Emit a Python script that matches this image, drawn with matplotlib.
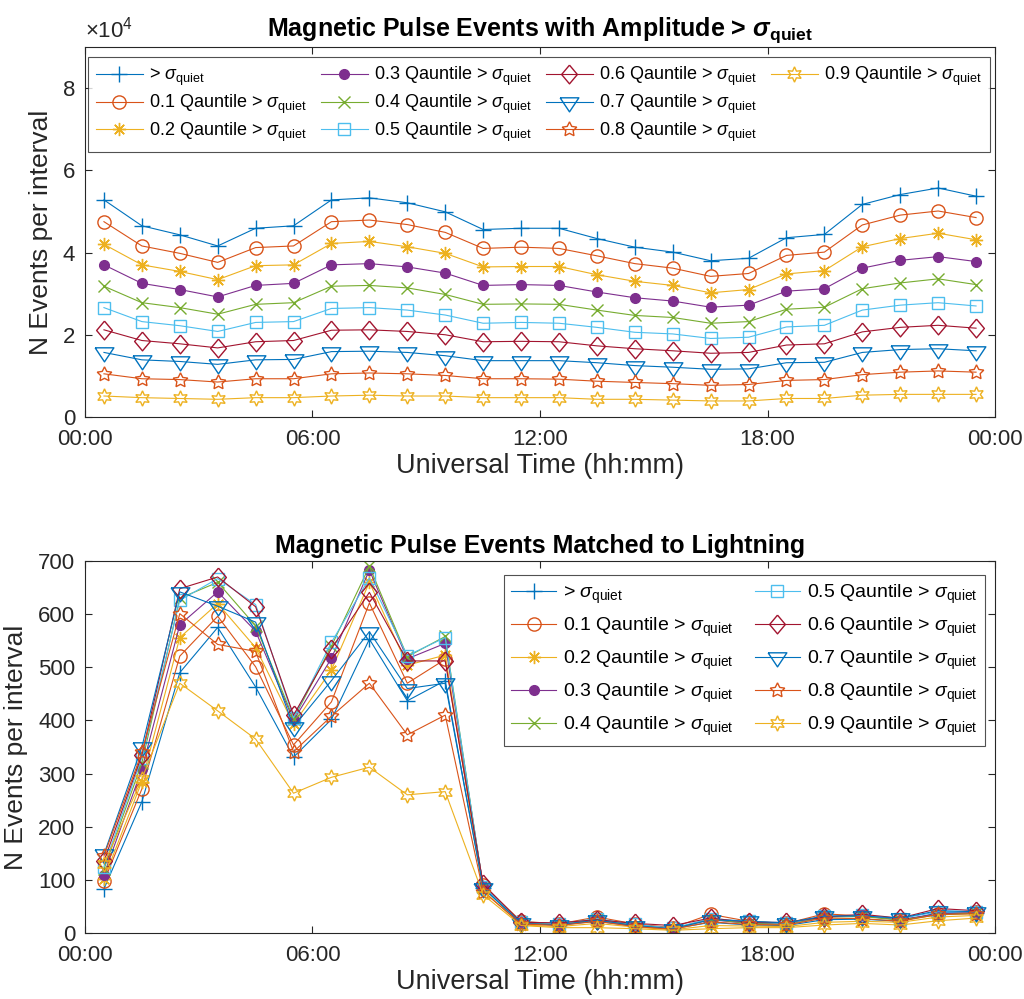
import numpy as np
import matplotlib
matplotlib.use('Agg')
import matplotlib.pyplot as plt
from matplotlib.lines import Line2D
from matplotlib.ticker import FuncFormatter

plt.rcParams['font.family'] = ['Liberation Sans', 'DejaVu Sans']
plt.rcParams['mathtext.fontset'] = 'custom'
plt.rcParams['mathtext.rm'] = 'Liberation Sans'
plt.rcParams['mathtext.it'] = 'Liberation Sans:italic'
plt.rcParams['mathtext.bf'] = 'Liberation Sans:bold'
plt.rcParams['mathtext.bfit'] = 'Liberation Sans:bold:italic'

# hourly intervals, centred on the half hour
hours = np.arange(24) + 0.5
hour_ticks = [0, 6, 12, 18, 24]
hour_labels = ['00:00', '06:00', '12:00', '18:00', '00:00']

labels = [r'> $\sigma_{\rm quiet}$'] + \
    [r'%s Qauntile > $\sigma_{\rm quiet}$' % q for q in
     ['0.1', '0.2', '0.3', '0.4', '0.5', '0.6', '0.7', '0.8', '0.9']]

# all pulse events per interval (counts)
all_events = [
    [52800, 46500, 44300, 41600, 45900, 46500, 52800, 53300, 52100, 49900, 45600, 45900,
     45900, 43400, 41300, 40100, 38000, 38600, 43600, 44400, 51700, 54100, 55700, 53700],
    [47500, 41600, 39800, 37600, 41200, 41600, 47500, 47900, 46800, 44900, 41000, 41300,
     41000, 39200, 37300, 36200, 34200, 34900, 39300, 40100, 46700, 49100, 50100, 48500],
    [42000, 37000, 35400, 33400, 36800, 37000, 42200, 42700, 41400, 39800, 36500, 36600,
     36600, 34600, 33000, 32000, 30200, 31000, 34800, 35600, 41400, 43400, 44700, 43100],
    [37000, 32500, 31000, 29200, 32000, 32500, 37000, 37300, 36500, 35000, 32000, 32200,
     32000, 30400, 29000, 28200, 26700, 27200, 30600, 31200, 36200, 38100, 39000, 37800],
    [31800, 27800, 26600, 25000, 27400, 27800, 31800, 32000, 31400, 29800, 27400, 27500,
     27400, 26000, 24700, 24200, 22800, 23200, 26200, 26700, 31200, 32600, 33600, 32200],
    [26600, 23200, 22200, 20800, 23000, 23200, 26400, 26600, 26000, 24800, 22800, 23000,
     22800, 21800, 20600, 20200, 19100, 19400, 21900, 22300, 26000, 27200, 27800, 27000],
    [21200, 18600, 17800, 16800, 18300, 18600, 21100, 21200, 20800, 20000, 18300, 18400,
     18300, 17300, 16600, 16100, 15500, 15700, 17500, 17800, 20700, 21800, 22300, 21600],
    [15700, 13900, 13500, 12800, 13900, 14000, 15900, 16000, 15700, 14900, 13700, 13700,
     13700, 13200, 12500, 12100, 11600, 11700, 13200, 13300, 15700, 16400, 16600, 16100],
    [10500, 9300, 9100, 8500, 9300, 9300, 10500, 10700, 10500, 10100, 9300, 9300,
     9200, 8700, 8400, 8100, 7700, 7900, 8900, 9100, 10300, 10900, 11200, 10900],
    [5100, 4700, 4500, 4300, 4700, 4700, 5100, 5300, 5100, 5100, 4700, 4700,
     4700, 4300, 4300, 4100, 3900, 3900, 4500, 4500, 5300, 5500, 5500, 5500],
]

# events matched to lightning per interval (counts)
matched_events = [
    [83, 247, 490, 575, 463, 331, 402, 553, 437, 475, 85,
     18, 15, 22, 13, 8, 20, 15, 14, 25, 26, 22, 38, 38],
    [97, 271, 521, 596, 501, 354, 435, 621, 470, 515, 90,
     22, 17, 30, 17, 10, 35, 22, 18, 36, 32, 25, 35, 39],
    [102, 285, 556, 620, 537, 393, 495, 660, 504, 523, 80,
     15, 12, 18, 11, 6, 14, 13, 12, 20, 22, 20, 30, 33],
    [110, 308, 580, 642, 568, 400, 517, 683, 516, 545, 88,
     20, 16, 25, 14, 8, 25, 18, 17, 30, 33, 25, 36, 38],
    [120, 320, 630, 660, 578, 403, 540, 690, 520, 558, 86,
     20, 17, 26, 15, 8, 26, 18, 16, 30, 31, 24, 34, 37],
    [125, 330, 626, 667, 618, 405, 547, 668, 522, 556, 87,
     21, 17, 27, 16, 9, 27, 22, 18, 31, 33, 27, 40, 40],
    [135, 335, 648, 670, 614, 410, 535, 641, 512, 512, 92,
     20, 19, 25, 18, 14, 28, 20, 20, 30, 35, 28, 46, 42],
    [148, 350, 642, 615, 585, 388, 475, 567, 460, 470, 85,
     18, 15, 24, 14, 8, 25, 22, 19, 32, 32, 28, 42, 40],
    [145, 340, 601, 543, 530, 341, 408, 470, 373, 410, 78,
     17, 14, 22, 12, 7, 21, 16, 15, 28, 27, 22, 35, 36],
    [130, 290, 470, 418, 365, 263, 293, 312, 260, 266, 72,
     14, 10, 10, 8, 5, 8, 10, 10, 15, 18, 15, 23, 28],
]

colors = ['#0072BD', '#D95319', '#EDB120', '#7E2F8E', '#77AC30',
          '#4DBEEE', '#A2142F', '#0072BD', '#D95319', '#EDB120']

diamond = [(0, 1), (0.84, 0), (0, -1), (-0.84, 0), (0, 1)]
tri_down = [(-1, 0.5), (1, 0.5), (0, -1), (-1, 0.5)]
# (marker, size, filled)
markers = [('+', 11, False), ('o', 9.5, False), ((8, 2, 0), 9.5, False),
           ('o', 7, True), ('x', 9, False), ('s', 9.2, False),
           (diamond, 13.5, False), (tri_down, 13.5, False),
           ((5, 1, 0), 11, False), ((6, 1, 0), 11, False)]

axis_col = '#262626'


def style_axes(ax):
    ax.set_xlim(0, 24)
    ax.set_xticks(hour_ticks)
    ax.set_xticklabels(hour_labels)
    ax.tick_params(direction='in', length=5, width=0.8, top=True, right=True,
                   labelsize=16, colors=axis_col)
    ax.tick_params(axis='x', pad=9)
    ax.tick_params(axis='y', pad=7)
    for sp in ax.spines.values():
        sp.set_color(axis_col)
        sp.set_linewidth(0.8)
    ax.set_xlabel('Universal Time (hh:mm)', fontsize=19.5, color=axis_col, labelpad=2)
    ax.set_ylabel('N Events per interval', fontsize=19, color=axis_col, labelpad=7)


def draw_series(ax, data):
    lines = []
    for vals, col, (mk, ms, filled) in zip(data, colors, markers):
        ln, = ax.plot(hours, vals, color=col, lw=0.8, marker=mk, markersize=ms,
                      markeredgewidth=1.0, markeredgecolor=col,
                      markerfacecolor=col if filled else 'none')
        lines.append(ln)
    return lines


fig = plt.figure(figsize=(10.24, 9.99), dpi=100)
ax1 = fig.add_axes([0.083, 0.5826, 0.8887, 0.3704])
ax2 = fig.add_axes([0.083, 0.0661, 0.8887, 0.3723])

# top panel: all events
lines1 = draw_series(ax1, all_events)
style_axes(ax1)
ax1.set_ylim(0, 90000)
ax1.set_yticks([0, 20000, 40000, 60000, 80000])
ax1.yaxis.set_major_formatter(FuncFormatter(lambda v, p: '%d' % round(v / 1e4)))
ax1.text(0, 1.012, r'$\times$10$^{4}$', transform=ax1.transAxes, fontsize=16,
         color=axis_col, ha='left', va='bottom')
ax1.set_title(r'Magnetic Pulse Events with Amplitude > $\mathbfit{\sigma}_{\mathbf{quiet}}$',
              fontsize=18, fontweight='bold', pad=8)
blank = [Line2D([], [], linestyle='none'), Line2D([], [], linestyle='none')]
leg1 = ax1.legend(lines1 + blank, labels + ['', ''], ncol=4, loc='upper left',
                  bbox_to_anchor=(0.003, 0.716, 0.9915, 0.257), mode='expand',
                  fontsize=13, frameon=True, fancybox=False, edgecolor=axis_col,
                  handlelength=2.6, handletextpad=0.35, labelspacing=0.25,
                  borderpad=0.45, borderaxespad=0)
leg1.get_frame().set_linewidth(0.8)

# bottom panel: events matched to lightning
lines2 = draw_series(ax2, matched_events)
style_axes(ax2)
ax2.set_ylim(0, 700)
ax2.set_yticks(np.arange(0, 701, 100))
ax2.set_title('Magnetic Pulse Events Matched to Lightning', fontsize=18,
              fontweight='bold', pad=6)
leg2 = ax2.legend(lines2, labels, ncol=2, loc='upper right',
                  bbox_to_anchor=(0.989, 0.962), fontsize=14, frameon=True,
                  fancybox=False, edgecolor=axis_col, handlelength=2.3,
                  handletextpad=0.35, labelspacing=0.5, columnspacing=1.1,
                  borderpad=0.4, borderaxespad=0)
leg2.get_frame().set_linewidth(0.8)

fig.savefig('out.png', dpi=100)
